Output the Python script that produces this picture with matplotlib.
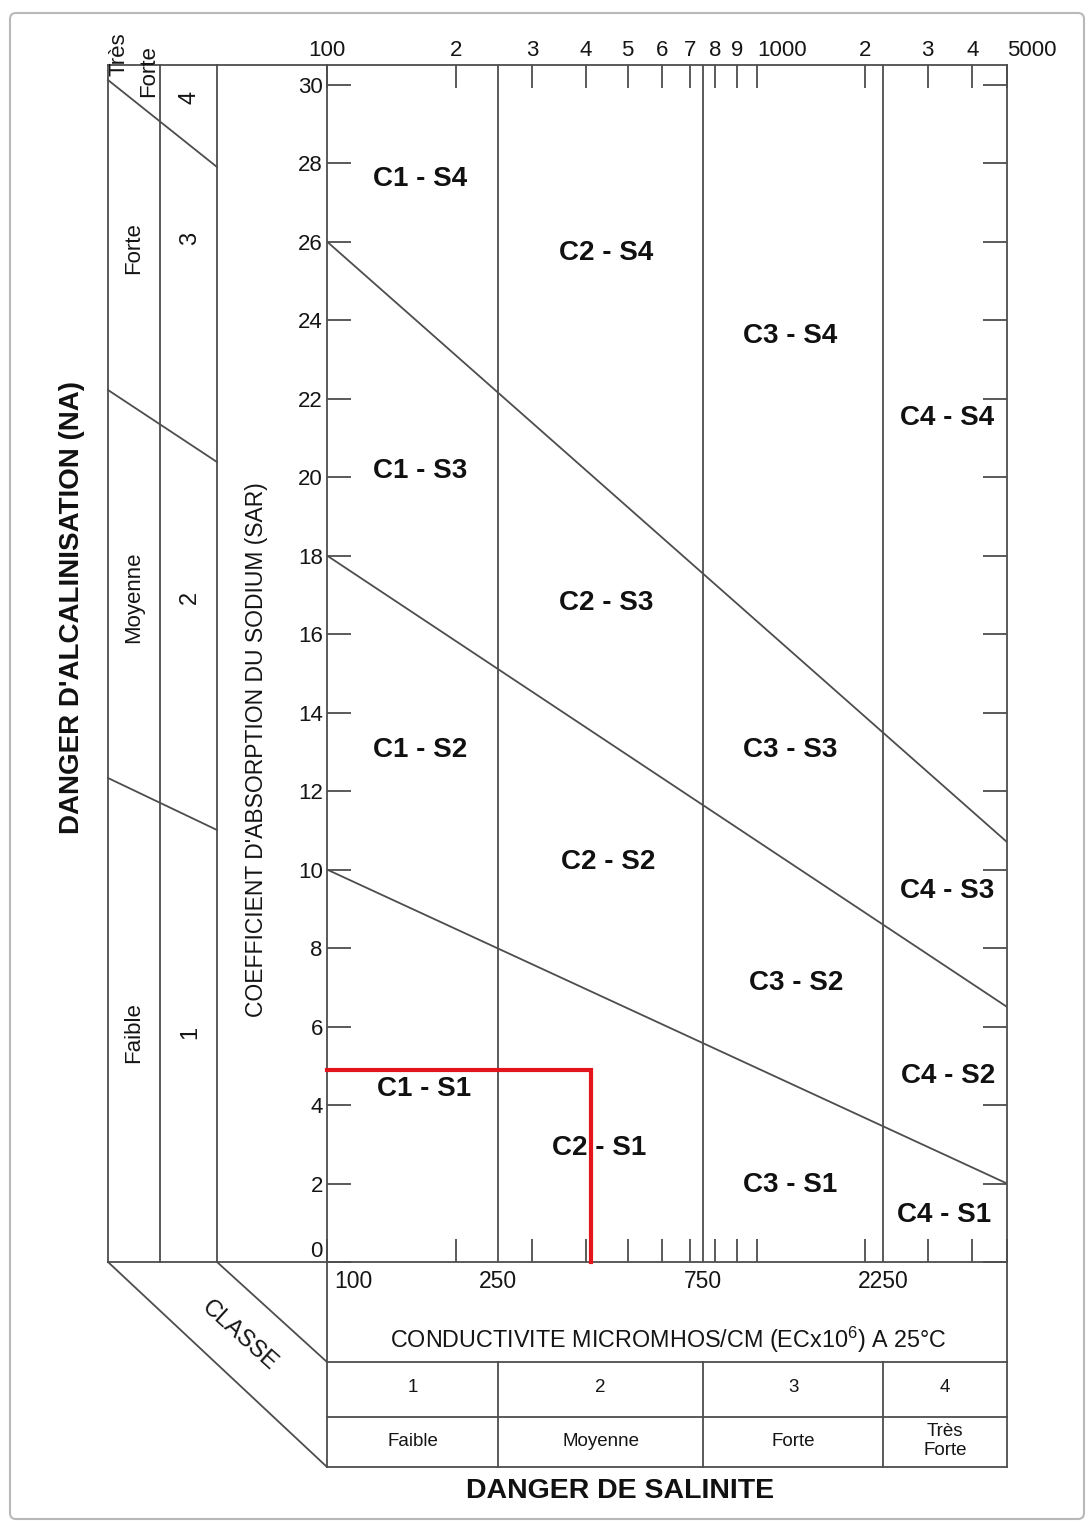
import numpy as np
import matplotlib.pyplot as plt
from matplotlib import transforms
from matplotlib.patches import FancyBboxPatch

plt.rcParams['font.family'] = ['Liberation Sans', 'DejaVu Sans']
plt.rcParams['mathtext.fontset'] = 'custom'
plt.rcParams['mathtext.rm'] = 'Liberation Sans'
plt.rcParams['mathtext.it'] = 'Liberation Sans:italic'
plt.rcParams['mathtext.bf'] = 'Liberation Sans:bold'

# ---- data ----
ec_range = [100, 5000]
class_bounds = [250, 750, 2250]
bound_values = [100, 250, 750, 2250]
bound_labels = ['100', '250', '750', '2250']
class_numbers = ['1', '2', '3', '4']
class_names = ['Faible', 'Moyenne', 'Forte', 'Très\nForte']

ec_ticks = [100, 200, 300, 400, 500, 600, 700, 800, 900,
            1000, 2000, 3000, 4000, 5000]
ec_tick_labels = ['100', '2', '3', '4', '5', '6', '7', '8', '9',
                  '1000', '2', '3', '4', '5000']
sar_ticks = list(range(0, 31, 2))

# sodium hazard boundaries: SAR at EC=100 and at EC=5000
s_left = [10, 18, 26]
s_right = [2.0, 6.5, 10.7]

zone_names = ['C1 - S4', 'C2 - S4', 'C3 - S4', 'C4 - S4',
              'C1 - S3', 'C2 - S3', 'C3 - S3', 'C4 - S3',
              'C1 - S2', 'C2 - S2', 'C3 - S2', 'C4 - S2',
              'C1 - S1', 'C2 - S1', 'C3 - S1', 'C4 - S1']
zone_ec = [165, 445, 1235, 3400,
           165, 445, 1235, 3400,
           165, 450, 1285, 3430,
           168, 430, 1235, 3340]
zone_sar = [27.6, 25.7, 23.6, 21.5,
            20.15, 16.8, 13.05, 9.45,
            13.05, 10.2, 7.1, 4.75,
            4.4, 2.9, 1.95, 1.2]

sample_ec = 410
sample_sar = 4.9

alk_names = ['Faible', 'Moyenne', 'Forte']
alk_numbers = ['1', '2', '3', '4']

# the printed EC axis is squeezed above 1000
K = 0.8317


def fwd(x):
    lx = np.log10(np.maximum(np.asarray(x, dtype=float), 1e-12))
    return np.where(lx <= 3, lx - 2, 1 + (lx - 3) * K)


def inv(u):
    u = np.asarray(u, dtype=float)
    return np.where(u <= 1, 10 ** (u + 2), 10 ** (3 + (u - 1) / K))


LC = '#4d4d4d'
LW = 1.3
TC = '#151515'

W, H = 1091, 1524
fig = plt.figure(figsize=(W / 100, H / 100), dpi=100)
fa = fig.add_axes([0, 0, 1, 1])
fa.set_xlim(0, W)
fa.set_ylim(H, 0)
fa.axis('off')

L, R, T, B = 327, 1007, 65, 1262
ax = fig.add_axes([L / W, 1 - B / H, (R - L) / W, (B - T) / H])
ax.set_facecolor('none')
ax.set_xscale('function', functions=(fwd, inv))
ax.set_xlim(*ec_range)
ax.set_ylim(0, 30.5)

for sp in ax.spines.values():
    sp.set_color(LC)
    sp.set_linewidth(LW)

ax.set_xticks(ec_ticks, ec_tick_labels)
ax.minorticks_off()
ax.tick_params(axis='x', direction='in', length=16.5, width=LW, color=LC,
               top=True, bottom=True, labeltop=True, labelbottom=False,
               labelsize=16, labelcolor=TC, pad=3)
ax.set_yticks(sar_ticks)
ax.tick_params(axis='y', direction='in', length=17, width=LW, color=LC,
               left=True, right=True, labelleft=True, labelsize=16,
               labelcolor=TC, pad=3)
for lab in ax.get_xticklabels():
    if lab.get_text() in ('1000', '5000'):
        lab.set_horizontalalignment('left')
for lab in ax.get_yticklabels():
    if lab.get_text() == '0':
        lab.set_verticalalignment('bottom')

for b in class_bounds:
    ax.axvline(b, color=LC, lw=LW)
for yl, yr in zip(s_left, s_right):
    ax.plot(ec_range, [yl, yr], color=LC, lw=LW)

for name, x, y in zip(zone_names, zone_ec, zone_sar):
    ax.text(x, y, name, ha='center', va='center', fontsize=20,
            fontweight='bold', color='#111111')

ax.plot([ec_range[0], sample_ec, sample_ec], [sample_sar, sample_sar, 0],
        color='#e3141c', lw=3, solid_joinstyle='miter', clip_on=False,
        zorder=5)

# ---- salinity table under the chart (x in EC units) ----
bt = transforms.blended_transform_factory(ax.transData, fa.transData)
for py in [1362, 1417, 1467]:
    fa.plot(ec_range, [py, py], color=LC, lw=LW, transform=bt)
for b in class_bounds:
    fa.plot([b, b], [1362, 1467], color=LC, lw=LW, transform=bt)
for b in ec_range:
    fa.plot([b, b], [B, 1467], color=LC, lw=LW, transform=bt)

for i, (v, s) in enumerate(zip(bound_values, bound_labels)):
    if i == 0:
        fa.text(104, 1281, s, ha='left', va='center', fontsize=16.5,
                color=TC, transform=bt)
    else:
        fa.text(v, 1281, s, ha='center', va='center', fontsize=16.5,
                color=TC, transform=bt)

edges = [ec_range[0]] + class_bounds + [ec_range[1]]
for i in range(4):
    xc = float(inv((fwd(edges[i]) + fwd(edges[i + 1])) / 2))
    fa.text(xc, 1388, class_numbers[i], ha='center', va='center',
            fontsize=13.5, color=TC, transform=bt)
    fa.text(xc, 1441, class_names[i], ha='center', va='center',
            fontsize=13.5, linespacing=1.2, color=TC, transform=bt)

fa.text(668, 1340, 'CONDUCTIVITE MICROMHOS/CM (ECx10$^{\\mathrm{6}}$) A 25°C',
        ha='center', va='center', fontsize=16.8, color=TC)
fa.text(620, 1491, 'DANGER DE SALINITE', ha='center', va='center',
        fontsize=20.5, fontweight='bold', color='#111111')

# ---- alkalinity panel on the left ----
for px in [108, 160, 217]:
    fa.plot([px, px], [T, B], color=LC, lw=LW)
fa.plot([108, L], [T, T], color=LC, lw=LW)
fa.plot([108, L], [B, B], color=LC, lw=LW)
fa.plot([108, 217], [80, 167], color=LC, lw=LW)
fa.plot([108, 217], [390, 462], color=LC, lw=LW)
fa.plot([108, 217], [778, 830], color=LC, lw=LW)
fa.plot([108, L], [B, 1467], color=LC, lw=LW)
fa.plot([217, L], [B, 1362], color=LC, lw=LW)

for name, py in zip(alk_names, [1033, 597, 248]):
    fa.text(134, py, name, rotation=90, ha='center', va='center',
            fontsize=16, color=TC)
fa.text(119, 54, 'Très', rotation=90, ha='center', va='center', fontsize=16,
        color=TC)
fa.text(149, 71, 'Forte', rotation=90, ha='center', va='center', fontsize=16,
        color=TC)
for num, py in zip(alk_numbers, [1032, 597, 238, 97]):
    fa.text(190, py, num, rotation=90, ha='center', va='center',
            fontsize=17, color=TC)

fa.text(72, 607, "DANGER D'ALCALINISATION (NA)", rotation=90, ha='center',
        va='center', fontsize=20, fontweight='bold', color='#111111')
fa.text(256, 750, "COEFFICIENT D'ABSORPTION DU SODIUM (SAR)", rotation=90,
        ha='center', va='center', fontsize=16.5, color=TC)
fa.text(239, 1336, 'CLASSE', rotation=-42, ha='center', va='center',
        fontsize=17, rotation_mode='anchor', color=TC)

fa.add_patch(FancyBboxPatch((10, 13), 1074, 1506,
                            boxstyle='round,pad=0,rounding_size=6',
                            fc='none', ec='#b8b8b8', lw=1.5))

fig.savefig('out.png', dpi=100, facecolor='white')
